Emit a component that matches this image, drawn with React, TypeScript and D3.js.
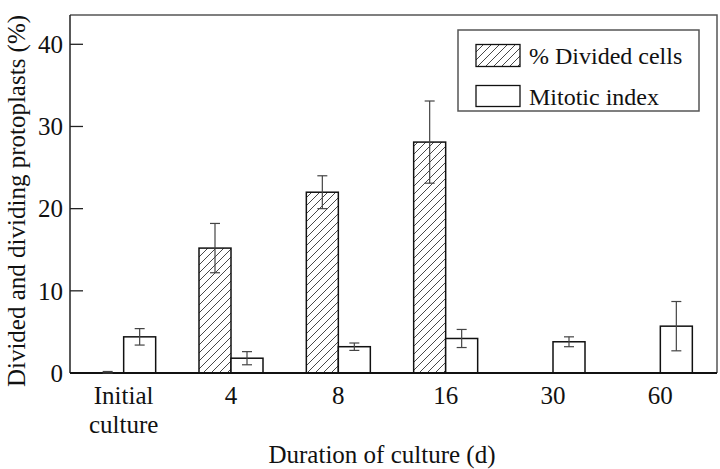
import React from 'react';
import * as d3 from 'd3';

// Chart data
const categories = ['Initial culture', '4', '8', '16', '30', '60'];
const dividedCells: (number | null)[] = [0, 15.2, 22.0, 28.1, null, null];
const dividedErr: (number | null)[] = [0, 3.0, 2.0, 5.0, null, null];
const mitoticIndex = [4.4, 1.8, 3.2, 4.2, 3.8, 5.7];
const mitoticErr = [1.0, 0.8, 0.45, 1.1, 0.6, 3.0];
const yTicks = [0, 10, 20, 30, 40];
const legendLabels = ['% Divided cells', 'Mitotic index'];

const W = 720;
const H = 469;
const FONT = "'Liberation Serif', 'Times New Roman', Tinos, Times, 'DejaVu Serif', serif";

const App: React.FC = () => {
  const left = 70;
  const right = 717;
  const top = 15;
  const bottom = 373;

  const x = d3.scaleBand<string>().domain(categories).range([left, 714]).paddingInner(0);
  const y = d3.scaleLinear().domain([0, 40]).range([bottom, 44.3]);

  const barW = 32;
  const capW = 5;

  const errorBar = (cx: number, v: number, e: number, key: string) => (
    <g key={key} stroke="#444" strokeWidth={1.2}>
      <line x1={cx} x2={cx} y1={y(v - e)} y2={y(v + e)} />
      <line x1={cx - capW} x2={cx + capW} y1={y(v + e) - (e === 0 ? 1.5 : 0)} y2={y(v + e) - (e === 0 ? 1.5 : 0)} />
      <line x1={cx - capW} x2={cx + capW} y1={y(v - e)} y2={y(v - e)} />
    </g>
  );

  return (
    <div style={{ position: 'fixed', left: 0, top: 0 }}>
      <svg width={W} height={H} style={{ display: 'block', background: '#fff', fontFamily: FONT }}>
        <defs>
          <pattern id="hatch" patternUnits="userSpaceOnUse" width={8} height={8}>
            <path d="M0,8 L8,0 M-2,2 L2,-2 M6,10 L10,6" stroke="#333" strokeWidth={0.9} />
          </pattern>
        </defs>

        {/* frame */}
        <path
          d={`M${left},${top} L${right},${top} L${right},${bottom}`}
          fill="none"
          stroke="#555"
          strokeWidth={1.5}
        />
        <line x1={left} x2={left} y1={top} y2={bottom} stroke="#222" strokeWidth={1.5} />

        {/* y ticks */}
        {yTicks.map((t) => (
          <g key={t}>
            <line x1={left} x2={left + 13} y1={y(t)} y2={y(t)} stroke="#222" strokeWidth={1.3} />
            <text x={63} y={y(t)} dy="0.35em" textAnchor="end" fontSize={25} fill="#111">
              {t}
            </text>
          </g>
        ))}

        {/* bars */}
        {categories.map((c, i) => {
          const cx = (x(c) as number) + x.bandwidth() / 2;
          const dv = dividedCells[i];
          return (
            <g key={c}>
              {dv !== null && (
                <rect
                  x={cx - barW}
                  y={y(dv)}
                  width={barW}
                  height={bottom - y(dv)}
                  fill="url(#hatch)"
                  stroke="#111"
                  strokeWidth={1.5}
                />
              )}
              <rect
                x={cx}
                y={y(mitoticIndex[i])}
                width={barW}
                height={bottom - y(mitoticIndex[i])}
                fill="#fff"
                stroke="#111"
                strokeWidth={1.5}
              />
            </g>
          );
        })}

        {/* x axis line */}
        <line x1={left} x2={right} y1={bottom} y2={bottom} stroke="#111" strokeWidth={2} />

        {/* error bars */}
        {categories.map((c, i) => {
          const cx = (x(c) as number) + x.bandwidth() / 2;
          const dv = dividedCells[i];
          const de = dividedErr[i];
          return (
            <g key={'e' + c}>
              {dv !== null && de !== null && errorBar(cx - barW / 2, dv, de, 'd' + i)}
              {errorBar(cx + barW / 2, mitoticIndex[i], mitoticErr[i], 'm' + i)}
            </g>
          );
        })}

        {/* x labels */}
        {categories.map((c) => {
          const cx = (x(c) as number) + x.bandwidth() / 2;
          const lines = c.split(' ');
          return (
            <text key={c} textAnchor="middle" fontSize={25} fill="#111">
              {lines.map((l, j) => (
                <tspan key={j} x={cx} y={404 + j * 29}>
                  {l}
                </tspan>
              ))}
            </text>
          );
        })}

        <text x={382} y={463} textAnchor="middle" fontSize={25} fill="#111">
          Duration of culture (d)
        </text>
        <text transform="translate(25,201) rotate(-90)" textAnchor="middle" fontSize={25} fill="#111">
          Divided and dividing protoplasts (%)
        </text>

        {/* legend */}
        <rect x={458} y={30} width={241} height={81} fill="#fff" stroke="#555" strokeWidth={1.5} />
        <rect x={476} y={44.5} width={44} height={22} fill="url(#hatch)" stroke="#111" strokeWidth={1.3} />
        <rect x={476} y={85.5} width={44} height={21} fill="#fff" stroke="#111" strokeWidth={1.3} />
        {legendLabels.map((l, i) => (
          <text key={l} x={529} y={64 + i * 41} fontSize={24} fill="#111">
            {l}
          </text>
        ))}
      </svg>
    </div>
  );
};

export default App;
